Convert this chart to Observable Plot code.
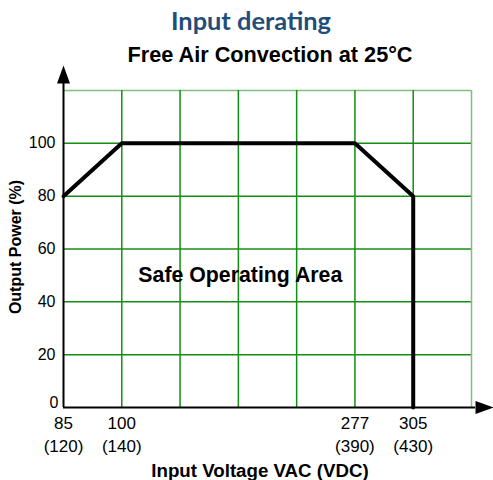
<!DOCTYPE html>
<html><head><meta charset="utf-8">
<script src="https://cdn.jsdelivr.net/npm/d3@7"></script>
<script src="https://cdn.jsdelivr.net/npm/@observablehq/plot@0.6"></script>
<style>
html,body{margin:0;padding:0;background:#fff;}
#wrap{position:relative;width:493px;height:480px;overflow:hidden;}
.t{position:absolute;left:0;text-align:center;white-space:nowrap;line-height:1;}
#title{top:5px;width:502px;font:bold 25.4px Lato,sans-serif;color:#1f4e79;}
#subtitle{top:42px;width:540px;font:bold 21.7px "Liberation Sans",Arial,sans-serif;color:#000;}
#chart{position:absolute;left:0;top:0;}
</style></head><body>
<div id="wrap"><div id="chart"></div><div class="t" id="title">Input derating</div><div class="t" id="subtitle">Free Air Convection at 25°C</div></div>
<script>
// Derating curve
const curveVAC = [85, 100, 277, 305, 305];
const curvePower = [80, 100, 100, 80, 0];
// X tick labels
const tickVAC = [85, 100, 277, 305];
const tickVDC = [120, 140, 390, 430];
// Grid columns (VAC values at each vertical grid line)
const gridVAC = [85, 100, 144.25, 188.5, 232.75, 277, 305, 333];
// Y ticks / grid rows
const powerTicks = [0, 20, 40, 60, 80, 100];
const powerTop = 120;
const areaLabel = [{vac: 190, power: 50, text: "Safe Operating Area"}];
const xTitle = "Input Voltage VAC (VDC)";
const yTitle = "Output Power (%)";

const W = 493, H = 480, mL = 63, mR = 22, mT = 90, mB = 73;
const step = (W - mL - mR) / (gridVAC.length - 1);
const vdcOf = new Map(tickVAC.map((v, i) => [v, tickVDC[i]]));
const curve = curveVAC.map((v, i) => ({vac: v, power: curvePower[i]}));
const green = "#138f13", lightGreen = "#80c080";

const arrowHead = {draw(ctx) { ctx.moveTo(0, -9); ctx.lineTo(6.5, 9); ctx.lineTo(-6.5, 9); ctx.closePath(); }};

const chart = Plot.plot({
  width: W, height: H,
  marginLeft: mL, marginRight: mR, marginTop: mT, marginBottom: mB,
  style: {fontFamily: "'Liberation Sans', Arial, sans-serif", fontSize: "16px", color: "#000", background: "#fff"},
  x: {type: "linear", domain: gridVAC, range: gridVAC.map((d, i) => mL + i * step)},
  y: {domain: [0, powerTop]},
  marks: [
    Plot.ruleY(powerTicks.slice(1), {stroke: green, strokeWidth: 1.5}),
    Plot.ruleY([powerTop], {stroke: lightGreen, strokeWidth: 1.5}),
    Plot.ruleX(gridVAC.slice(1, -1), {y1: powerTop, y2: 0, stroke: green, strokeWidth: 1.5}),
    Plot.ruleX(gridVAC.slice(-1), {y1: powerTop, y2: 0, stroke: lightGreen, strokeWidth: 1.5}),
    Plot.ruleX([gridVAC[0]], {y1: powerTop, y2: 0, insetTop: -7, stroke: "#000", strokeWidth: 2}),
    Plot.ruleY([0], {x1: gridVAC[0], x2: gridVAC[gridVAC.length - 1], insetRight: -4, stroke: "#000", strokeWidth: 2}),
    Plot.line(curve, {x: "vac", y: "power", stroke: "#000", strokeWidth: 4, strokeLinejoin: "miter"}),
    Plot.dot([{vac: gridVAC[0], power: powerTop}], {x: "vac", y: "power", symbol: arrowHead, fill: "#000", stroke: null, dy: -16}),
    Plot.dot([{vac: gridVAC[gridVAC.length - 1], power: 0}], {x: "vac", y: "power", symbol: arrowHead, rotate: 90, fill: "#000", stroke: null, dx: 13}),
    Plot.axisY(powerTicks.slice(1), {tickSize: 0, tickPadding: 8, fontSize: 16, label: null}),
    Plot.axisY([0], {tickSize: 0, tickPadding: 5, fontSize: 16, label: null, dy: -5}),
    Plot.axisX(tickVAC, {tickSize: 0, tickPadding: 5, fontSize: 17, lineHeight: 1.35, label: null,
      tickFormat: d => `${d}\n(${vdcOf.get(d)})`}),
    Plot.text(areaLabel, {x: "vac", y: "power", text: "text", fontSize: 21.3, fontWeight: "bold", fill: "#000"}),
    Plot.text([yTitle], {frameAnchor: "left", textAnchor: "middle", lineAnchor: "middle", rotate: -90, dx: -48, dy: -2, fontSize: 16, fontWeight: "bold", fill: "#000"}),
    Plot.text([xTitle], {frameAnchor: "bottom", textAnchor: "middle", lineAnchor: "middle", dy: 64, dx: -7.5, fontSize: 18.7, fontWeight: "bold", fill: "#000"})
  ]
});
document.getElementById("chart").appendChild(chart);
</script>
</body></html>
